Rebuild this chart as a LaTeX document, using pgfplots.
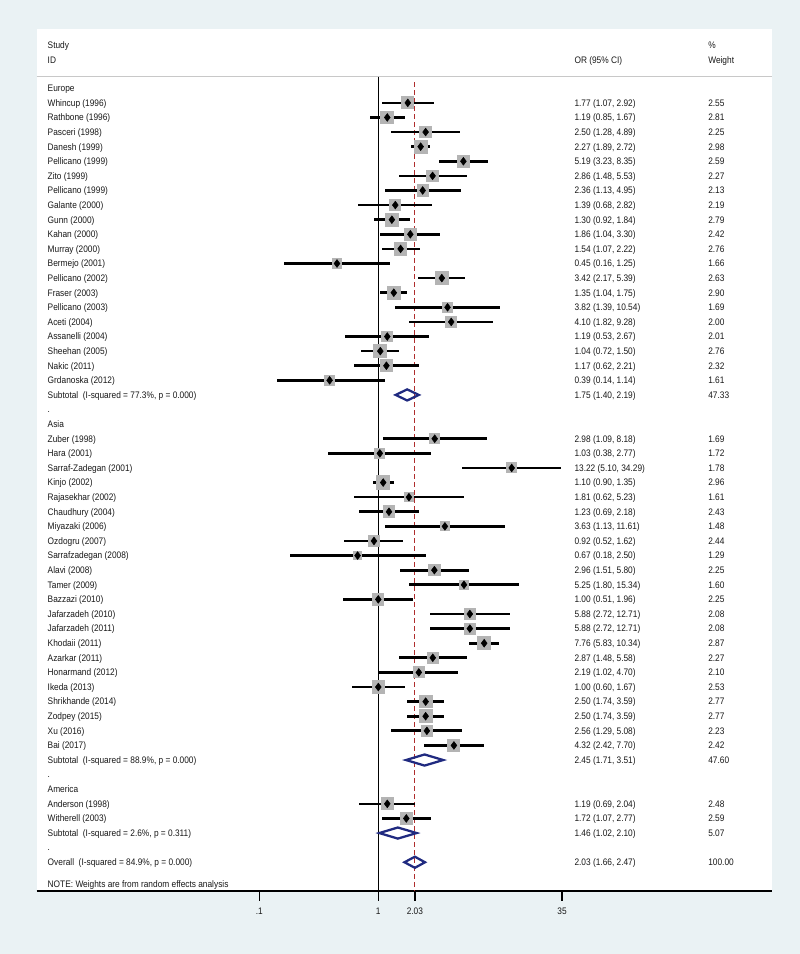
\documentclass[border=0pt]{standalone}
\usepackage{fontspec}
\setmainfont{Liberation Sans}[FakeStretch=0.88]
\usepackage{pgfplots}
\usepackage{pgfplotstable}
\pgfplotsset{compat=1.18}
\definecolor{bgblue}{RGB}{234,242,244}
\definecolor{boxgray}{RGB}{180,180,180}
\definecolor{dnavy}{RGB}{32,42,128}
\definecolor{refred}{RGB}{175,45,45}
\definecolor{hdrgray}{RGB}{200,200,200}

% r = row (0 = Europe header), or, lo, hi, weight
\pgfplotstableread{
r or lo hi w
1 1.77 1.07 2.92 2.55
2 1.19 0.85 1.67 2.81
3 2.50 1.28 4.89 2.25
4 2.27 1.89 2.72 2.98
5 5.19 3.23 8.35 2.59
6 2.86 1.48 5.53 2.27
7 2.36 1.13 4.95 2.13
8 1.39 0.68 2.82 2.19
9 1.30 0.92 1.84 2.79
10 1.86 1.04 3.30 2.42
11 1.54 1.07 2.22 2.76
12 0.45 0.16 1.25 1.66
13 3.42 2.17 5.39 2.63
14 1.35 1.04 1.75 2.90
15 3.82 1.39 10.54 1.69
16 4.10 1.82 9.28 2.00
17 1.19 0.53 2.67 2.01
18 1.04 0.72 1.50 2.76
19 1.17 0.62 2.21 2.32
20 0.39 0.14 1.14 1.61
24 2.98 1.09 8.18 1.69
25 1.03 0.38 2.77 1.72
26 13.22 5.10 34.29 1.78
27 1.10 0.90 1.35 2.96
28 1.81 0.62 5.23 1.61
29 1.23 0.69 2.18 2.43
30 3.63 1.13 11.61 1.48
31 0.92 0.52 1.62 2.44
32 0.67 0.18 2.50 1.29
33 2.96 1.51 5.80 2.25
34 5.25 1.80 15.34 1.60
35 1.00 0.51 1.96 2.25
36 5.88 2.72 12.71 2.08
37 5.88 2.72 12.71 2.08
38 7.76 5.83 10.34 2.87
39 2.87 1.48 5.58 2.27
40 2.19 1.02 4.70 2.10
41 1.00 0.60 1.67 2.53
42 2.50 1.74 3.59 2.77
43 2.50 1.74 3.59 2.77
44 2.56 1.29 5.08 2.23
45 4.32 2.42 7.70 2.42
49 1.19 0.69 2.04 2.48
50 1.72 1.07 2.77 2.59
}\studies

\newcommand{\lab}[2]{\node[txt] at ({rel axis cs:0.0147,0}|-{axis cs:1,-#1}) {#2};}
\newcommand{\val}[3]{%
  \node[txt] at ({rel axis cs:0.7311,0}|-{axis cs:1,-#1}) {#2};
  \node[txt] at ({rel axis cs:0.913,0}|-{axis cs:1,-#1}) {#3};}

\begin{document}
\begin{tikzpicture}[font=\fontsize{7.1pt}{8.5pt}\selectfont, txt/.style={anchor=base west, inner sep=0pt, yshift=-2.5pt, text=black!90}]
\fill[bgblue] (0,0) rectangle (600pt,715.5pt);
\begin{axis}[
  at={(27.5pt,46.9pt)}, anchor=south west, scale only axis,
  width=551.5pt, height=646.65pt,
  xmode=log, xmin=0.001347, xmax=2034, ymin=-55, ymax=4.04,
  axis x line*=bottom, axis y line=none, ytick=\empty,
  axis background/.style={fill=white},
  clip=false,
  xtick={0.1,1,2.03,35}, xticklabels={.1,1,2.03,35},
  tick align=outside, major tick length=7pt, minor tick length=0pt,
  x axis line style={line width=1.5pt, black},
  xtick style={line width=1.1pt, black},
  xticklabel style={text=black!90, yshift=-2pt},
]
% header
\draw[hdrgray, line width=1pt] ({rel axis cs:0,0}|-{axis cs:1,0.79}) -- ({rel axis cs:1,0}|-{axis cs:1,0.79});
\node[txt] at ({rel axis cs:0.0147,0}|-{axis cs:1,2.96}) {Study};
\node[txt] at ({rel axis cs:0.0147,0}|-{axis cs:1,1.94}) {ID};
\node[txt] at ({rel axis cs:0.7311,0}|-{axis cs:1,1.94}) {OR (95\% CI)};
\node[txt] at ({rel axis cs:0.913,0}|-{axis cs:1,2.96}) {\%};
\node[txt] at ({rel axis cs:0.913,0}|-{axis cs:1,1.94}) {Weight};

% weight boxes (side proportional to sqrt of weight)
\addplot[only marks, mark=none,
  visualization depends on={6.2*sqrt(\thisrow{w}) \as \boxside},
  nodes near coords={},
  every node near coord/.style={anchor=center, inner sep=0pt, outer sep=0pt,
     minimum size=\boxside pt, fill=boxgray, draw=none}]
  table[x=or, y expr=-\thisrow{r}] {\studies};

% reference lines
\addplot[black, line width=1.1pt] coordinates {(1,0.79) (1,-55)};
\addplot[refred, line width=0.9pt, dash pattern=on 3.5pt off 2.5pt] coordinates {(2.03,0.4) (2.03,-55)};

% CIs and point estimates
\addplot[only marks, mark=diamond*, mark size=2.9pt, black,
  error bars/.cd, x dir=both, x explicit, error mark=none,
  error bar style={line width=2pt, black}]
  table[x=or, y expr=-\thisrow{r},
        x error plus expr=\thisrow{hi}-\thisrow{or},
        x error minus expr=\thisrow{or}-\thisrow{lo}] {\studies};

% pooled diamonds
\addplot[dnavy, line width=1.7pt, line join=miter] coordinates {(1.40,-21) (1.75,-20.62) (2.19,-21) (1.75,-21.38)} -- cycle;
\addplot[dnavy, line width=1.7pt, line join=miter] coordinates {(1.71,-46) (2.45,-45.62) (3.51,-46) (2.45,-46.38)} -- cycle;
\addplot[dnavy, line width=1.7pt, line join=miter] coordinates {(1.02,-51) (1.46,-50.62) (2.10,-51) (1.46,-51.38)} -- cycle;
\addplot[dnavy, line width=1.7pt, line join=miter] coordinates {(1.66,-53) (2.03,-52.62) (2.47,-53) (2.03,-53.38)} -- cycle;

% labels
\lab{0}{Europe}
\lab{1}{Whincup (1996)}\val{1}{1.77 (1.07, 2.92)}{2.55}
\lab{2}{Rathbone (1996)}\val{2}{1.19 (0.85, 1.67)}{2.81}
\lab{3}{Pasceri (1998)}\val{3}{2.50 (1.28, 4.89)}{2.25}
\lab{4}{Danesh (1999)}\val{4}{2.27 (1.89, 2.72)}{2.98}
\lab{5}{Pellicano (1999)}\val{5}{5.19 (3.23, 8.35)}{2.59}
\lab{6}{Zito (1999)}\val{6}{2.86 (1.48, 5.53)}{2.27}
\lab{7}{Pellicano (1999)}\val{7}{2.36 (1.13, 4.95)}{2.13}
\lab{8}{Galante (2000)}\val{8}{1.39 (0.68, 2.82)}{2.19}
\lab{9}{Gunn (2000)}\val{9}{1.30 (0.92, 1.84)}{2.79}
\lab{10}{Kahan (2000)}\val{10}{1.86 (1.04, 3.30)}{2.42}
\lab{11}{Murray (2000)}\val{11}{1.54 (1.07, 2.22)}{2.76}
\lab{12}{Bermejo (2001)}\val{12}{0.45 (0.16, 1.25)}{1.66}
\lab{13}{Pellicano (2002)}\val{13}{3.42 (2.17, 5.39)}{2.63}
\lab{14}{Fraser (2003)}\val{14}{1.35 (1.04, 1.75)}{2.90}
\lab{15}{Pellicano (2003)}\val{15}{3.82 (1.39, 10.54)}{1.69}
\lab{16}{Aceti (2004)}\val{16}{4.10 (1.82, 9.28)}{2.00}
\lab{17}{Assanelli (2004)}\val{17}{1.19 (0.53, 2.67)}{2.01}
\lab{18}{Sheehan (2005)}\val{18}{1.04 (0.72, 1.50)}{2.76}
\lab{19}{Nakic (2011)}\val{19}{1.17 (0.62, 2.21)}{2.32}
\lab{20}{Grdanoska (2012)}\val{20}{0.39 (0.14, 1.14)}{1.61}
\lab{21}{Subtotal\ \ (I-squared = 77.3\%, p = 0.000)}\val{21}{1.75 (1.40, 2.19)}{47.33}
\lab{22}{.}
\lab{23}{Asia}
\lab{24}{Zuber (1998)}\val{24}{2.98 (1.09, 8.18)}{1.69}
\lab{25}{Hara (2001)}\val{25}{1.03 (0.38, 2.77)}{1.72}
\lab{26}{Sarraf-Zadegan (2001)}\val{26}{13.22 (5.10, 34.29)}{1.78}
\lab{27}{Kinjo (2002)}\val{27}{1.10 (0.90, 1.35)}{2.96}
\lab{28}{Rajasekhar (2002)}\val{28}{1.81 (0.62, 5.23)}{1.61}
\lab{29}{Chaudhury (2004)}\val{29}{1.23 (0.69, 2.18)}{2.43}
\lab{30}{Miyazaki (2006)}\val{30}{3.63 (1.13, 11.61)}{1.48}
\lab{31}{Ozdogru (2007)}\val{31}{0.92 (0.52, 1.62)}{2.44}
\lab{32}{Sarrafzadegan (2008)}\val{32}{0.67 (0.18, 2.50)}{1.29}
\lab{33}{Alavi (2008)}\val{33}{2.96 (1.51, 5.80)}{2.25}
\lab{34}{Tamer (2009)}\val{34}{5.25 (1.80, 15.34)}{1.60}
\lab{35}{Bazzazi (2010)}\val{35}{1.00 (0.51, 1.96)}{2.25}
\lab{36}{Jafarzadeh (2010)}\val{36}{5.88 (2.72, 12.71)}{2.08}
\lab{37}{Jafarzadeh (2011)}\val{37}{5.88 (2.72, 12.71)}{2.08}
\lab{38}{Khodaii (2011)}\val{38}{7.76 (5.83, 10.34)}{2.87}
\lab{39}{Azarkar (2011)}\val{39}{2.87 (1.48, 5.58)}{2.27}
\lab{40}{Honarmand (2012)}\val{40}{2.19 (1.02, 4.70)}{2.10}
\lab{41}{Ikeda (2013)}\val{41}{1.00 (0.60, 1.67)}{2.53}
\lab{42}{Shrikhande (2014)}\val{42}{2.50 (1.74, 3.59)}{2.77}
\lab{43}{Zodpey (2015)}\val{43}{2.50 (1.74, 3.59)}{2.77}
\lab{44}{Xu (2016)}\val{44}{2.56 (1.29, 5.08)}{2.23}
\lab{45}{Bai (2017)}\val{45}{4.32 (2.42, 7.70)}{2.42}
\lab{46}{Subtotal\ \ (I-squared = 88.9\%, p = 0.000)}\val{46}{2.45 (1.71, 3.51)}{47.60}
\lab{47}{.}
\lab{48}{America}
\lab{49}{Anderson (1998)}\val{49}{1.19 (0.69, 2.04)}{2.48}
\lab{50}{Witherell (2003)}\val{50}{1.72 (1.07, 2.77)}{2.59}
\lab{51}{Subtotal\ \ (I-squared = 2.6\%, p = 0.311)}\val{51}{1.46 (1.02, 2.10)}{5.07}
\lab{52}{.}
\lab{53}{Overall\ \ (I-squared = 84.9\%, p = 0.000)}\val{53}{2.03 (1.66, 2.47)}{100.00}
\lab{54.53}{NOTE: Weights are from random effects analysis}
\end{axis}
\end{tikzpicture}
\end{document}
